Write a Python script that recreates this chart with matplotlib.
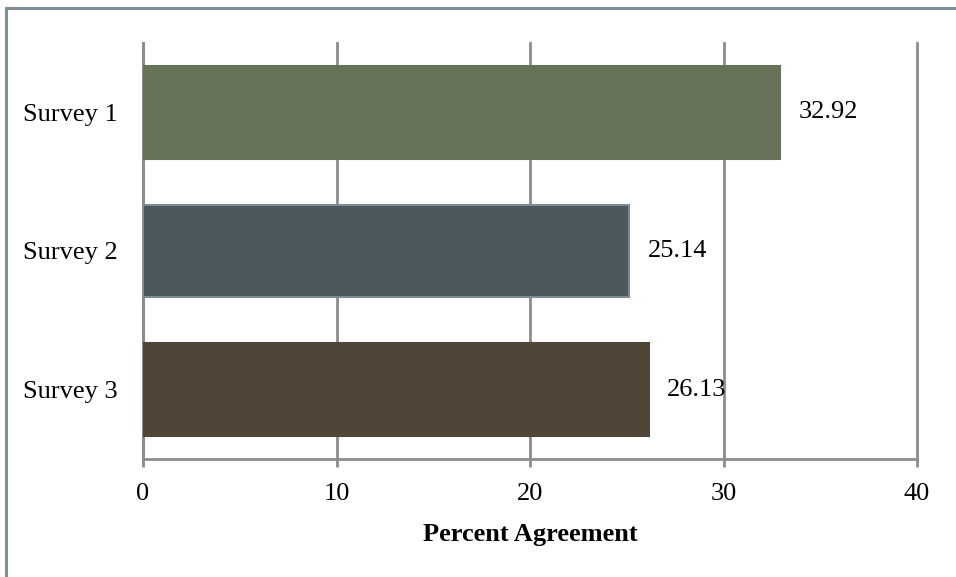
import matplotlib
matplotlib.use("Agg")
import matplotlib.pyplot as plt
from matplotlib.lines import Line2D

categories = ["Survey 1", "Survey 2", "Survey 3"]
values = [32.92, 25.14, 26.13]
bar_colors = ["#667358", "#4a585e", "#4f4539"]
edge_colors = ["#667358", "#7d8c94", "#4f4539"]
xticks = [0, 10, 20, 30, 40]

plt.rcParams["font.family"] = ["Liberation Serif", "DejaVu Serif"]

W, H = 956, 577
fig = plt.figure(figsize=(W / 100, H / 100), dpi=100)
ax = fig.add_axes([143 / W, 1 - 459 / H, (917 - 143) / W, (459 - 43) / H])

grid_color = "#8c8c8c"
ypos = list(range(len(categories)))
ax.barh(ypos, values, height=0.67, color=bar_colors, edgecolor=edge_colors,
        linewidth=1.5, zorder=3)

for y, v in zip(ypos, values):
    ax.text(v + 0.95, y, f"{v:.2f}", va="center", ha="left", fontsize=19,
            zorder=4)

ax.set_xlim(0, 40)
ax.set_ylim(2.5, -0.5)
ax.set_xticks(xticks)
ax.set_yticks(ypos)
ax.set_yticklabels(categories)

ax.xaxis.grid(True, color=grid_color, linewidth=2, zorder=1)
ax.yaxis.grid(False)
for gl in ax.get_xgridlines():
    gl.set_clip_on(False)

for side in ["top", "right"]:
    ax.spines[side].set_visible(False)
for side in ["left", "bottom"]:
    ax.spines[side].set_color(grid_color)
    ax.spines[side].set_linewidth(2)
    ax.spines[side].set_zorder(2)

ax.tick_params(axis="x", length=5.5, width=2, color=grid_color, pad=12,
               labelsize=19)
ax.tick_params(axis="y", length=0, pad=18, labelsize=19)

ax.set_xlabel("Percent Agreement", fontsize=19, fontweight="bold", labelpad=13)

# frame lines along the top and left edges of the figure
border = "#7f8f99"
fig.add_artist(Line2D([6 / W, 1], [1 - 8 / H, 1 - 8 / H], color=border,
                      linewidth=2.2, transform=fig.transFigure))
fig.add_artist(Line2D([6 / W, 6 / W], [0, 1 - 8 / H], color=border,
                      linewidth=2.2, transform=fig.transFigure))

fig.savefig("out.png", dpi=100)
